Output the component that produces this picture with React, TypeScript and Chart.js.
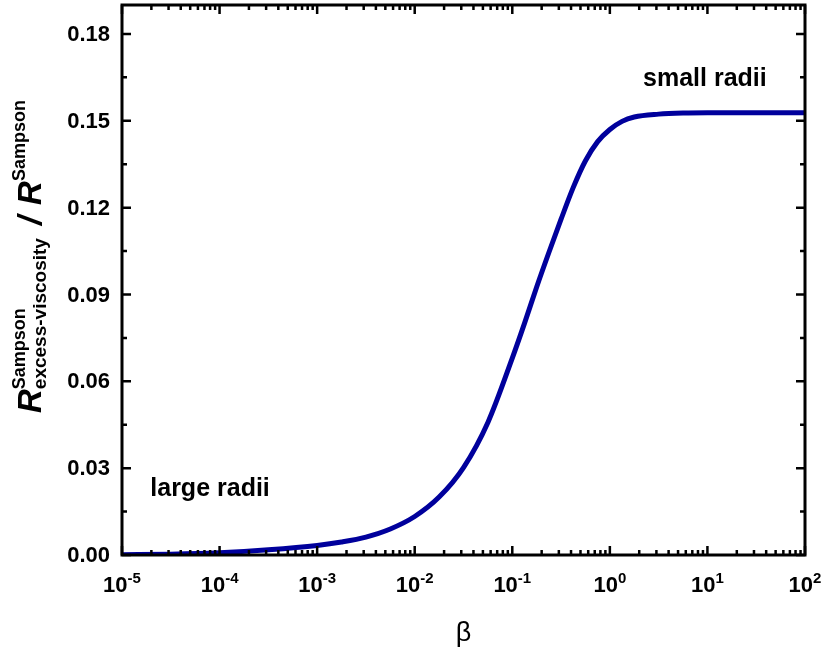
import { useEffect, useRef } from "react";
import { Chart, registerables } from "chart.js";

Chart.register(...registerables);

// log10(beta) sample positions and the resistance ratio at each
const betaExponents = [
  -5, -4.5, -4, -3.5, -3, -2.75, -2.5, -2.25, -2, -1.75, -1.5, -1.25, -1,
  -0.875, -0.75, -0.625, -0.5, -0.375, -0.25, -0.125, 0, 0.125, 0.25, 0.5,
  0.75, 1, 1.5, 2,
];
const ratioValues = [
  0.0001, 0.0003, 0.0008, 0.0018, 0.0033, 0.0045, 0.0062, 0.0090, 0.0133,
  0.0200, 0.0302, 0.0458, 0.0680, 0.0800, 0.0926, 0.1045, 0.1160, 0.1270,
  0.1362, 0.1428, 0.1470, 0.1498, 0.1513, 0.1523, 0.1527, 0.1528, 0.1528,
  0.1528,
];

const xDecades = [-5, -4, -3, -2, -1, 0, 1, 2];
const yTickValues = [0, 0.03, 0.06, 0.09, 0.12, 0.15, 0.18];
const yTickLabels = ["0.00", "0.03", "0.06", "0.09", "0.12", "0.15", "0.18"];

const LINE_COLOR = "#00009c";
const FONT = '"Liberation Sans", Arial, sans-serif';

const framePlugin = {
  id: "originFrame",
  afterDraw(chart: any) {
    const { ctx, chartArea: a, scales } = chart;
    const xs = scales.x;
    const ys = scales.y;
    ctx.save();
    ctx.strokeStyle = "#000";
    ctx.fillStyle = "#000";

    // frame
    ctx.lineWidth = 3;
    ctx.strokeRect(a.left, a.top, a.right - a.left, a.bottom - a.top);

    // ticks pointing inward on all four sides
    const MAJOR = 9;
    const MINOR = 5;
    ctx.lineWidth = 2.5;
    const xTick = (px: number, len: number) => {
      ctx.beginPath();
      ctx.moveTo(px, a.bottom);
      ctx.lineTo(px, a.bottom - len);
      ctx.moveTo(px, a.top);
      ctx.lineTo(px, a.top + len);
      ctx.stroke();
    };
    const yTick = (py: number, len: number) => {
      ctx.beginPath();
      ctx.moveTo(a.left, py);
      ctx.lineTo(a.left + len, py);
      ctx.moveTo(a.right, py);
      ctx.lineTo(a.right - len, py);
      ctx.stroke();
    };
    xDecades.forEach((d, i) => {
      xTick(xs.getPixelForValue(Math.pow(10, d)), MAJOR);
      if (i < xDecades.length - 1) {
        for (let m = 2; m <= 9; m++) {
          xTick(xs.getPixelForValue(m * Math.pow(10, d)), MINOR);
        }
      }
    });
    yTickValues.forEach((v) => {
      yTick(ys.getPixelForValue(v), MAJOR);
      yTick(ys.getPixelForValue(v + 0.015), MINOR);
    });

    // y tick labels
    ctx.font = `bold 22px ${FONT}`;
    ctx.textAlign = "right";
    ctx.textBaseline = "middle";
    yTickValues.forEach((v, i) => {
      ctx.fillText(yTickLabels[i], a.left - 12, ys.getPixelForValue(v) + 1);
    });

    // x tick labels: 10 with superscript exponent
    ctx.textAlign = "left";
    ctx.textBaseline = "alphabetic";
    xDecades.forEach((d) => {
      const px = xs.getPixelForValue(Math.pow(10, d));
      ctx.font = `bold 22px ${FONT}`;
      const wBase = ctx.measureText("10").width;
      ctx.font = `bold 15px ${FONT}`;
      const expText = String(d);
      const wExp = ctx.measureText(expText).width;
      const start = px - (wBase + wExp) / 2;
      ctx.font = `bold 22px ${FONT}`;
      ctx.fillText("10", start, 592);
      ctx.font = `bold 15px ${FONT}`;
      ctx.fillText(expText, start + wBase, 583);
    });

    // x axis title
    ctx.font = `27px ${FONT}`;
    ctx.textAlign = "center";
    ctx.fillText("\u03b2", (a.left + a.right) / 2, 641);

    // annotations
    ctx.font = `bold 25px ${FONT}`;
    ctx.textAlign = "left";
    ctx.fillText("large radii", xs.getPixelForValue(Math.pow(10, -4.71)), ys.getPixelForValue(0.0203));
    ctx.fillText("small radii", xs.getPixelForValue(Math.pow(10, 0.34)), ys.getPixelForValue(0.162));

    // y axis title: R^Sampson_excess-viscosity / R^Sampson
    ctx.translate(41, 413);
    ctx.rotate(-Math.PI / 2);
    ctx.textAlign = "left";
    let x = 0;
    ctx.font = `italic bold 33px ${FONT}`;
    ctx.fillText("R", x, 0);
    x += ctx.measureText("R").width;
    ctx.font = `bold 18px ${FONT}`;
    ctx.fillText("Sampson", x, -16);
    const wSup = ctx.measureText("Sampson").width;
    ctx.font = `bold 19px ${FONT}`;
    ctx.fillText("excess-viscosity", x, 5);
    const wSub = ctx.measureText("excess-viscosity").width;
    x += Math.max(wSup, wSub) + 13;
    ctx.font = `italic bold 33px ${FONT}`;
    ctx.fillText("/", x, 0);
    x += ctx.measureText("/").width + 11;
    ctx.fillText("R", x, 0);
    x += ctx.measureText("R").width;
    ctx.font = `bold 18px ${FONT}`;
    ctx.fillText("Sampson", x, -16);

    ctx.restore();
  },
};

export default function App() {
  const canvasRef = useRef<HTMLCanvasElement | null>(null);

  useEffect(() => {
    if (!canvasRef.current) return;
    const points = betaExponents.map((e, i) => ({ x: Math.pow(10, e), y: ratioValues[i] }));
    const chart = new Chart(canvasRef.current, {
      type: "line",
      data: {
        datasets: [
          {
            data: points,
            borderColor: LINE_COLOR,
            borderWidth: 5,
            pointRadius: 0,
            fill: false,
            cubicInterpolationMode: "monotone",
          },
        ],
      },
      options: {
        responsive: false,
        animation: false,
        devicePixelRatio: 1,
        layout: { padding: { top: 5, right: 20, left: 0, bottom: 0 } },
        plugins: { legend: { display: false }, tooltip: { enabled: false } },
        scales: {
          x: {
            type: "logarithmic",
            min: 1e-5,
            max: 1e2,
            grid: { display: false },
            border: { display: false },
            ticks: { display: false },
            afterFit: (s: any) => {
              s.height = 94;
            },
          },
          y: {
            type: "linear",
            min: 0,
            max: 0.19,
            grid: { display: false },
            border: { display: false },
            ticks: { display: false },
            afterFit: (s: any) => {
              s.width = 122;
            },
          },
        },
      },
      plugins: [framePlugin],
    } as any);
    return () => chart.destroy();
  }, []);

  return (
    <div style={{ position: "absolute", left: 0, top: 0, width: 825, height: 649, background: "#fff" }}>
      <canvas ref={canvasRef} width={825} height={649} />
    </div>
  );
}
